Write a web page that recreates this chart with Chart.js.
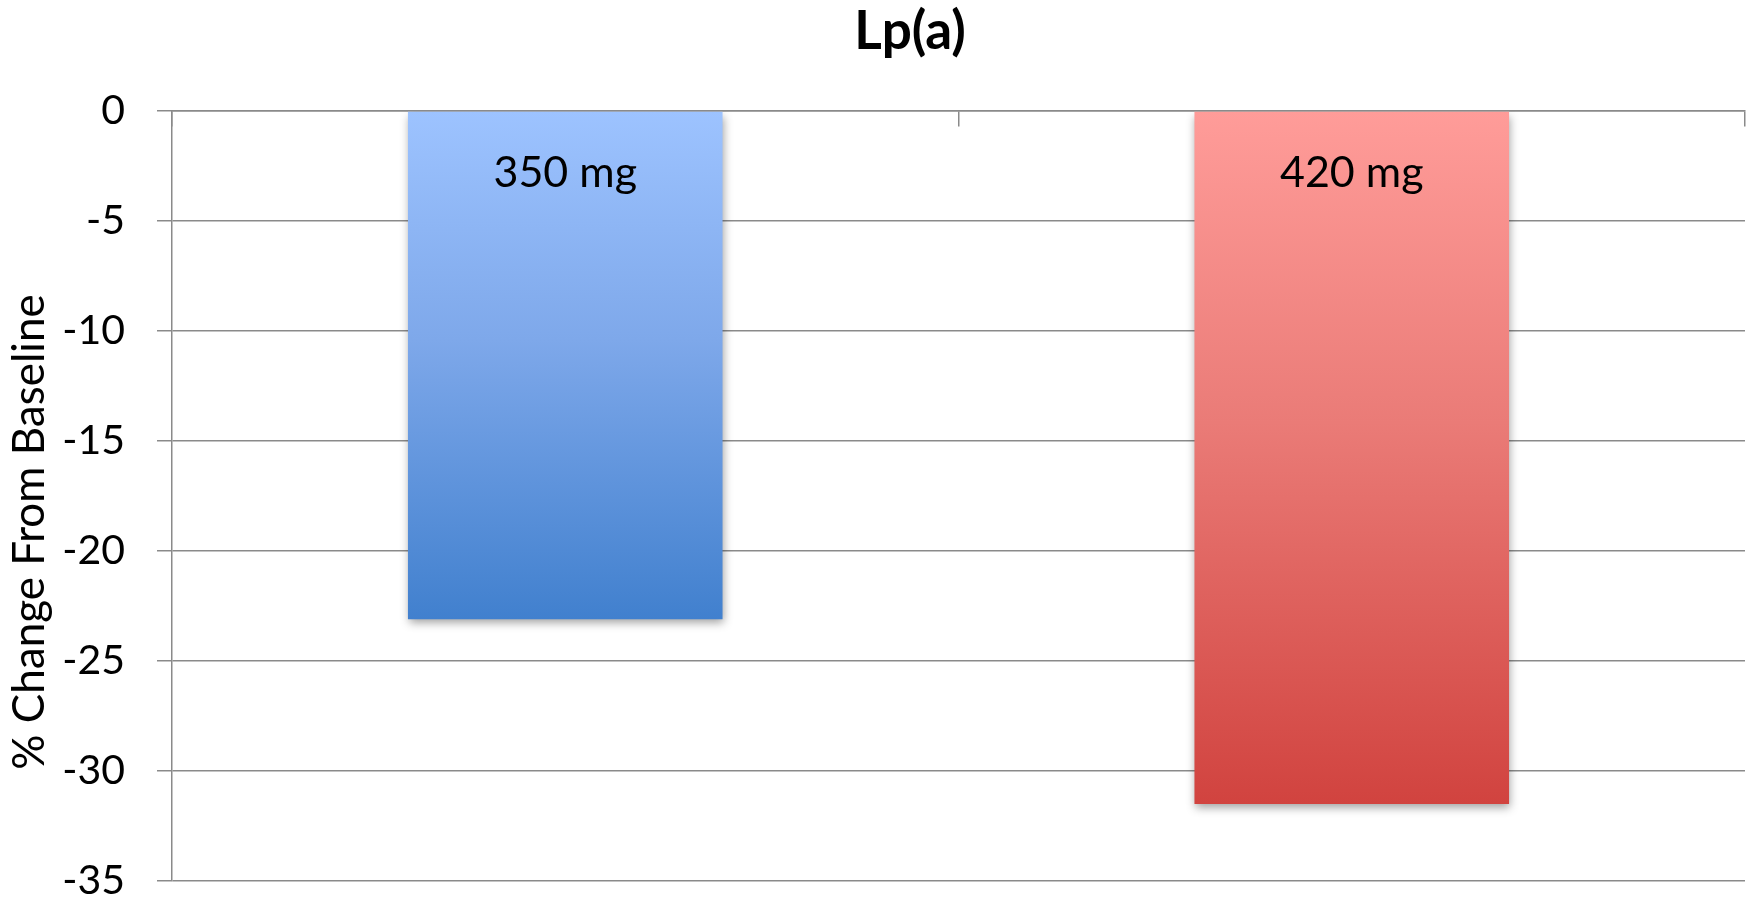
<!DOCTYPE html>
<html>
<head>
<meta charset="utf-8">
<script src="https://cdn.jsdelivr.net/npm/chart.js@4/dist/chart.umd.min.js"></script>
<style>
  html, body { margin: 0; padding: 0; background: #ffffff; }
  #wrap { width: 1750px; height: 899px; position: relative; }
</style>
</head>
<body>
<div id="wrap"><canvas id="chart"></canvas></div>
<script>
// Lp(a) percent change from baseline, by dose
const chartTitle = 'Lp(a)';
const axisTitle = '% Change From Baseline';
const doses = ['350 mg', '420 mg'];
const pctChange = [-23.1, -31.5];
const yTicks = { min: -35, max: 0, step: 5 };
const topColors = ['#9dc3ff', '#ff9c99'];
const midColors = ['#7ea8ea', '#ea7b77'];
const bottomColors = ['#4180ce', '#d1433f'];

const FONT = 'Lato, "Open Sans", sans-serif';
const GRID = '#8a8a8a';

function barFill(ctx) {
  const chart = ctx.chart;
  const i = ctx.dataIndex;
  const yScale = chart.scales.y;
  if (!chart.chartArea || !yScale) return bottomColors[i];
  const y0 = yScale.getPixelForValue(0);
  const y1 = yScale.getPixelForValue(pctChange[i]);
  const g = chart.ctx.createLinearGradient(0, y0, 0, y1);
  g.addColorStop(0, topColors[i]);
  g.addColorStop(0.45, midColors[i]);
  g.addColorStop(1, bottomColors[i]);
  return g;
}

// soft drop shadow under the bars
const barShadow = {
  id: 'barShadow',
  beforeDatasetDraw(chart) {
    const c = chart.ctx;
    c.save();
    c.shadowColor = 'rgba(0,0,0,0.38)';
    c.shadowBlur = 9;
    c.shadowOffsetX = 1;
    c.shadowOffsetY = 4;
  },
  afterDatasetDraw(chart) {
    chart.ctx.restore();
  }
};

// dose names inside the top of each bar, plus chart and axis titles
const textLayer = {
  id: 'textLayer',
  afterDatasetsDraw(chart) {
    const c = chart.ctx;
    const meta = chart.getDatasetMeta(0);
    c.save();
    c.fillStyle = '#000000';
    c.textAlign = 'center';
    c.textBaseline = 'middle';
    c.font = '43px ' + FONT;
    meta.data.forEach((bar, i) => {
      c.fillText(doses[i], bar.x, bar.base + 61);
    });
    c.font = 'bold 53px ' + FONT;
    c.fillText(chartTitle, 910, 32);
    c.translate(30, 532);
    c.rotate(-Math.PI / 2);
    c.font = '44px ' + FONT;
    c.fillText(axisTitle, 0, 0);
    c.restore();
  }
};

new Chart(document.getElementById('chart'), {
  type: 'bar',
  data: {
    labels: doses,
    datasets: [{
      data: pctChange,
      backgroundColor: barFill,
      borderWidth: 0,
      categoryPercentage: 1,
      barPercentage: 0.4
    }]
  },
  options: {
    responsive: true,
    maintainAspectRatio: false,
    animation: false,
    devicePixelRatio: 1,
    layout: { padding: { left: 0, right: 5, top: 111, bottom: 18 } },
    plugins: {
      legend: { display: false },
      title: { display: false },
      tooltip: { enabled: false }
    },
    scales: {
      x: {
        position: { y: 0 },
        offset: true,
        ticks: { display: false },
        grid: {
          offset: true,
          drawOnChartArea: false,
          drawTicks: true,
          tickLength: 15,
          color: GRID,
          lineWidth: 1.5
        },
        border: { display: true, color: GRID, width: 1.5 }
      },
      y: {
        min: yTicks.min,
        max: yTicks.max,
        ticks: {
          stepSize: yTicks.step,
          color: '#000000',
          padding: 32,
          font: { family: FONT, size: 41, lineHeight: 0.8 }
        },
        grid: {
          color: GRID,
          lineWidth: 1.5,
          tickLength: 15
        },
        border: { display: true, color: GRID, width: 1.5 },
        afterFit(scale) {
          scale.width = 172;
          scale.paddingTop = 0;
          scale.paddingBottom = 0;
        }
      }
    }
  },
  plugins: [barShadow, textLayer]
});
</script>
</body>
</html>
